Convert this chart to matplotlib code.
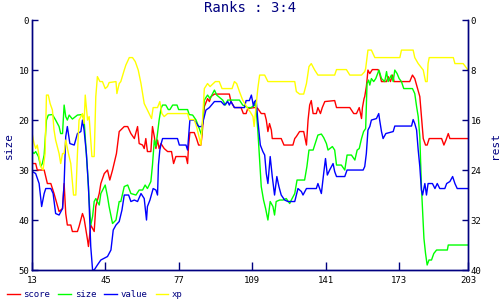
import matplotlib.pyplot as plt

# score (red), left axis units
score_x = [12.4, 14.6, 15.3, 18.3, 19.7, 21.2, 22.6, 24.8, 26.3, 27.0, 27.7, 28.4, 29.9, 30.6, 32.8,
           33.5, 35.0, 35.7, 37.2, 37.6, 38.6, 40.1, 40.8, 42.3, 43.0, 44.5, 45.9, 46.9, 48.1, 49.8,
           51.0, 53.2, 54.7, 56.1, 57.6, 59.0, 59.7, 61.2, 61.9, 62.6, 63.3, 64.8, 65.5, 66.3, 67.0,
           67.7, 68.4, 69.2, 70.6, 72.1, 73.8, 74.7, 75.7, 80.1, 80.8, 81.2, 81.8, 83.7, 84.7, 85.6,
           86.6, 87.1, 88.1, 89.5, 90.3, 91.0, 92.5, 99.0, 99.7, 101.2, 104.1, 105.1, 106.3, 107.0,
           109.9, 110.7, 111.4, 112.9, 114.4, 115.1, 115.8, 116.5, 117.3, 117.7, 121.6, 122.8, 126.7,
           127.5, 128.2, 129.6, 131.4, 132.6, 133.3, 134.0, 134.7, 135.5, 136.9, 137.6, 138.7, 139.5,
           140.6, 144.9, 145.7, 151.5, 153.2, 154.4, 155.6, 156.6, 157.0, 157.7, 158.0, 158.7, 159.0,
           159.4, 160.2, 161.3, 163.8, 164.5, 165.3, 167.5, 168.2, 169.2, 170.1, 170.8, 177.6, 178.8,
           179.8, 180.8, 182.0, 182.7, 183.5, 184.5, 185.2, 186.1, 191.5, 192.5, 193.4, 194.4, 195.1,
           203.0]
score = [28.7, 28.7, 30.0, 30.0, 32.7, 32.7, 34.7, 38.3, 37.7, 32.7, 38.7, 41.0, 41.0, 42.3, 42.3,
         41.3, 38.7, 39.7, 44.0, 45.3, 41.0, 42.3, 37.3, 34.7, 32.7, 30.7, 30.0, 32.0, 30.0, 26.7,
         22.3, 21.3, 21.3, 22.7, 23.7, 21.3, 24.7, 25.0, 25.7, 23.7, 26.3, 26.3, 21.3, 23.3, 25.7,
         24.0, 25.7, 24.7, 25.7, 26.3, 26.3, 28.7, 27.3, 27.3, 28.7, 25.3, 22.5, 22.5, 23.7, 25.0,
         25.0, 23.0, 17.3, 15.7, 16.3, 15.3, 14.8, 14.8, 16.3, 17.5, 17.5, 18.7, 18.7, 17.7,
         17.5, 17.5, 17.7, 18.7, 18.7, 20.0, 22.3, 20.7, 22.0, 23.7, 23.7, 25.0, 25.0,
         23.7, 23.3, 22.3, 22.3, 25.0, 20.0, 17.0, 16.1, 18.7, 18.7, 17.5, 18.7, 17.5,
         16.3, 16.1, 17.5, 17.5, 18.7, 18.7, 17.5, 19.7, 17.5, 15.7, 15.3, 13.3, 12.0,
         10.0, 10.7, 9.9, 9.9, 10.7, 12.3, 12.3, 11.3, 12.3, 11.0, 12.3, 12.3, 11.0,
         11.7, 13.3, 15.3, 19.3, 23.7, 25.0, 25.0, 23.7, 23.7, 25.0, 24.0, 22.7, 23.7,
         23.7]

# size (green)
size_x = [12.4, 13.9, 14.6, 15.8, 16.8, 17.5, 18.3, 19.3, 20.1, 21.9, 23.3, 24.8, 25.5, 26.3, 27.0,
          27.7, 28.4, 29.2, 30.6, 32.8, 35.0, 35.7, 37.2, 37.9, 38.6, 39.4, 40.1, 40.8, 42.3, 43.0,
          44.9, 45.9, 46.6, 48.1, 49.6, 51.0, 51.7, 53.2, 54.7, 56.1, 58.3, 59.7, 61.2, 62.3, 63.3,
          64.8, 65.5, 66.3, 67.0, 67.7, 68.4, 69.2, 69.9, 71.3, 72.4, 73.1, 74.3, 76.2, 76.9, 80.8,
          81.5, 83.0, 84.5, 85.9, 86.9, 87.4, 88.1, 89.5, 90.6, 92.5, 93.5, 96.1, 97.3, 98.3, 103.4,
          104.8, 107.0, 108.5, 109.9, 110.0, 110.7, 111.4, 112.2, 112.9, 113.9, 114.8, 115.8, 116.8,
          118.0, 118.7, 119.4, 120.9, 122.4, 123.8, 125.3, 126.0, 127.5, 128.5, 131.8, 132.8, 133.7,
          135.5, 136.2, 137.6, 139.1, 140.1, 141.3, 142.0, 143.9, 144.9, 145.7, 147.8, 149.3, 150.3,
          152.2, 153.7, 154.7, 155.6, 156.6, 157.5, 158.4, 159.0, 159.7, 160.2, 160.9, 161.9, 162.8,
          164.2, 165.3, 166.7, 167.5, 168.2, 169.6, 170.4, 171.1, 172.1, 173.0, 174.0, 175.0, 178.8,
          179.8, 180.6, 181.3, 182.0, 182.7, 183.2, 183.8, 184.5, 185.2, 186.0, 187.1, 188.1, 189.3,
          194.0, 194.4, 203.0]
size = [26.0, 26.7, 26.3, 27.3, 29.3, 28.7, 27.0, 20.0, 19.0, 18.9, 20.0, 21.3, 22.7, 22.7, 17.0,
        19.3, 20.0, 19.0, 19.8, 19.0, 18.9, 20.0, 30.3, 36.0, 41.0, 39.3, 36.3, 35.7, 37.0, 34.7,
        33.0, 35.3, 37.3, 40.7, 40.0, 36.3, 36.3, 33.3, 33.0, 34.7, 35.0, 34.0, 34.0, 33.0, 33.7,
        32.3, 29.0, 24.0, 25.3, 22.7, 20.0, 17.7, 17.0, 17.0, 17.9, 17.9, 17.0, 17.0, 17.9, 17.9,
        18.9, 19.0, 20.0, 21.7, 23.0, 20.0, 16.0, 15.0, 15.7, 14.0, 15.0, 16.0, 17.0, 16.0, 16.0,
        17.0, 17.5, 17.5, 17.0, 16.3, 18.0, 22.0, 28.0, 33.3, 36.0, 37.7, 40.0, 36.3,
        37.3, 39.0, 36.3, 36.0, 36.0, 35.7, 36.7, 36.0, 34.7, 32.0, 32.0, 29.3, 26.0,
        26.0, 25.0, 23.0, 22.8, 23.5, 24.7, 26.0, 25.3, 26.0, 29.0, 29.0, 30.0, 27.0,
        27.0, 28.0, 26.0, 25.7, 23.7, 22.3, 21.7, 12.7, 12.0, 13.0, 11.7, 12.3, 11.7,
        10.0, 11.7, 12.3, 10.3, 12.3, 11.0, 12.3, 10.0, 10.7, 11.7, 12.3, 13.7, 13.7,
        14.7, 17.3, 19.3, 23.3, 33.3, 38.0, 43.7, 46.7, 49.0, 48.0, 48.0, 46.7, 46.0,
        46.0, 45.0, 45.0]

# value (blue)
value_x = [12.4, 14.6, 16.1, 17.2, 18.3, 19.0, 21.2, 22.2, 23.3, 24.8, 26.3, 27.0, 27.7, 28.4, 29.5,
           31.4, 32.8, 34.3, 35.0, 35.7, 36.7, 37.6, 38.6, 39.4, 40.1, 41.5, 43.0, 45.9, 47.4, 48.4,
           49.6, 51.0, 52.2, 53.2, 55.1, 56.1, 57.6, 59.0, 60.5, 61.9, 62.9, 63.3, 64.4, 65.8, 67.0,
           67.7, 68.1, 68.7, 69.3, 69.9, 76.4, 77.2, 80.1, 80.8, 81.2, 81.8, 83.7, 84.7, 85.6, 87.1,
           87.7, 88.8, 90.3, 92.5, 95.4, 96.8, 98.3, 99.0, 99.7, 101.2, 105.6, 106.3, 107.7, 108.6,
           109.5, 110.0, 110.7, 111.4, 112.5, 113.6, 114.4, 115.1, 115.8, 116.8, 117.7, 118.7, 119.7,
           120.6, 121.6, 123.1, 124.5, 127.5, 128.9, 130.4, 131.1, 132.6, 136.9, 137.6, 139.1, 140.1,
           140.9, 141.7, 142.7, 144.2, 144.9, 145.7, 149.3, 150.3, 157.3, 158.0, 158.7, 159.4, 160.2,
           160.9, 163.1, 164.1, 164.5, 165.3, 166.0, 167.2, 170.4, 171.1, 178.4, 179.1, 179.8, 180.6,
           181.3, 182.0, 182.7, 183.2, 184.2, 184.9, 185.6, 187.5, 188.6, 189.6, 190.7, 192.9, 193.7,
           195.1, 196.3, 197.3, 198.3, 203.0]
value = [30.1, 30.7, 32.7, 37.3, 34.7, 33.7, 33.7, 34.7, 38.7, 39.0, 37.7, 32.7, 23.3, 21.3, 24.7,
         25.0, 22.7, 22.3, 20.0, 22.0, 26.7, 33.3, 45.3, 50.0, 50.0, 49.0, 48.0, 47.3, 46.0, 42.0,
         41.0, 40.3, 38.0, 35.0, 35.0, 36.3, 36.0, 36.3, 34.7, 35.7, 40.0, 37.3, 36.0, 33.7, 34.0,
         35.0, 29.0, 26.0, 24.7, 23.7, 23.7, 25.0, 25.0, 26.0, 23.7, 20.0, 20.0, 20.7, 21.3, 21.3,
         20.0, 18.0, 17.5, 16.3, 16.3, 17.0, 16.3, 17.0, 16.3, 17.5, 17.5, 16.1, 16.1, 15.0,
         17.2, 16.3, 16.0, 20.0, 25.0, 26.3, 27.0, 30.7, 32.7, 27.3, 31.3, 35.0, 31.3,
         33.3, 35.0, 36.0, 36.3, 36.3, 33.7, 34.3, 35.0, 33.7, 33.7, 32.7, 34.7, 30.7,
         27.7, 31.0, 30.0, 28.7, 30.3, 31.3, 31.3, 30.0, 30.0, 29.3, 26.7, 22.0, 21.3,
         20.0, 19.7, 18.7, 20.0, 22.3, 23.7, 22.7, 22.3, 21.2, 21.2, 19.9, 20.7, 22.0,
         26.0, 29.3, 34.0, 35.0, 32.7, 35.0, 32.7, 32.7, 33.7, 32.7, 33.7, 33.7, 32.7,
         32.3, 31.3, 32.7, 33.7, 33.7]

# xp (yellow)
xp_x = [12.9, 13.9, 14.6, 15.3, 16.8, 17.8, 18.7, 19.3, 20.1, 20.9, 21.9, 22.6, 23.3, 24.8, 25.5,
        26.3, 27.0, 27.7, 28.9, 29.9, 31.1, 32.1, 32.8, 33.5, 35.0, 35.7, 36.2, 37.2, 37.9, 39.1,
        40.1, 40.8, 41.5, 42.6, 43.7, 44.9, 45.9, 46.6, 49.6, 50.0, 51.0, 51.7, 53.2, 53.9, 55.4,
        56.8, 58.0, 59.3, 60.5, 61.9, 63.3, 65.1, 65.8, 67.7, 68.7, 69.6, 70.6, 72.1, 80.8, 81.5,
        83.7, 84.7, 85.6, 86.6, 87.4, 88.1, 89.5, 90.6, 92.9, 94.6, 95.8, 100.2, 101.2, 102.2,
        103.4, 104.8, 107.0, 108.0, 109.3, 109.8, 110.7, 111.4, 112.2, 114.4, 115.8, 127.5, 128.2,
        129.6, 131.4, 132.6, 133.7, 134.7, 136.2, 137.6, 144.9, 145.7, 150.0, 151.5, 156.6, 158.0,
        158.4, 159.4, 160.9, 162.4, 173.3, 174.0, 179.1, 179.8, 181.3, 183.5, 184.5, 185.2, 185.6,
        186.1, 196.6, 197.3, 200.9, 203.0]
xp = [22.3, 24.7, 25.7, 25.0, 29.3, 30.0, 26.7, 15.0, 15.0, 16.7, 18.0, 22.0, 24.0, 26.7, 28.7,
      26.7, 26.7, 24.0, 26.7, 28.7, 35.0, 35.0, 26.7, 20.0, 18.7, 20.7, 15.0, 20.0, 19.3, 27.3,
      27.3, 15.3, 11.3, 12.3, 12.3, 13.7, 13.3, 12.5, 12.3, 14.7, 12.7, 12.3, 10.0, 9.0, 7.5,
      7.5, 8.3, 10.0, 12.7, 16.7, 18.0, 19.7, 17.5, 17.5, 16.3, 18.7, 19.3, 18.7, 18.7, 19.9,
      19.9, 21.3, 23.0, 25.0, 19.3, 13.7, 12.7, 13.3, 12.3, 12.3, 13.7, 13.7, 12.3, 12.7,
      14.3, 16.0, 17.7, 18.3, 19.3, 21.3, 17.0, 13.7, 11.0, 11.0, 12.3, 12.3, 14.3,
      14.8, 14.8, 12.7, 9.3, 8.7, 10.0, 11.0, 11.0, 9.9, 9.9, 11.0, 11.0, 10.3,
      9.7, 6.0, 6.0, 7.5, 7.5, 6.0, 6.0, 7.5, 8.7, 10.0, 12.3, 12.3, 8.7,
      7.5, 7.5, 8.7, 8.7, 10.0]

x_ticks = [13, 45, 77, 109, 141, 173, 203]
left_ticks = [0, 10, 20, 30, 40, 50]
right_ticks = [0, 8, 16, 24, 32, 40]

navy = '#000080'
mono = 'DejaVu Sans Mono'

fig = plt.figure(figsize=(5, 3), dpi=100)
ax = fig.add_axes([0.064, 0.1, 0.872, 0.833])

ax.plot(score_x, score, color='#ff0000', lw=1.0, label='score')
ax.plot(size_x, size, color='#00ff00', lw=1.0, label='size')
ax.plot(value_x, value, color='#0000ff', lw=1.0, label='value')
ax.plot(xp_x, xp, color='#ffff00', lw=1.0, label='xp')

ax.set_xlim(13, 203)
ax.set_ylim(50, 0)
ax.set_xticks(x_ticks)
ax.set_yticks(left_ticks)
ax.tick_params(direction='in', length=4, width=1, color=navy, labelsize=6.5, pad=2)
ax.tick_params(axis='x', length=6, pad=4)
for lab in ax.get_xticklabels() + ax.get_yticklabels():
    lab.set_family(mono)
ax.set_ylabel('size', color=navy, fontsize=8, family=mono, labelpad=3)

ax2 = ax.twinx()
ax2.set_ylim(40, 0)
ax2.set_yticks(right_ticks)
ax2.tick_params(direction='in', length=4, width=1, color=navy, labelsize=6.5, pad=2)
for lab in ax2.get_yticklabels():
    lab.set_family(mono)
ax2.set_ylabel('rest', color=navy, fontsize=8, family=mono, labelpad=6)

for a in (ax, ax2):
    a.spines['top'].set_visible(False)
    for s in ('left', 'right', 'bottom'):
        a.spines[s].set_color(navy)
        a.spines[s].set_linewidth(1.0)

fig.suptitle('Ranks : 3:4', color=navy, fontsize=10, family=mono, y=0.995)

leg = fig.legend(loc='lower left', bbox_to_anchor=(-0.002, -0.025), ncol=4, frameon=False,
                 prop={'family': mono, 'size': 6.5}, handlelength=1.4, handletextpad=0.4,
                 columnspacing=0.9)
for t in leg.get_texts():
    t.set_color(navy)

fig.savefig('out.png', dpi=100)
